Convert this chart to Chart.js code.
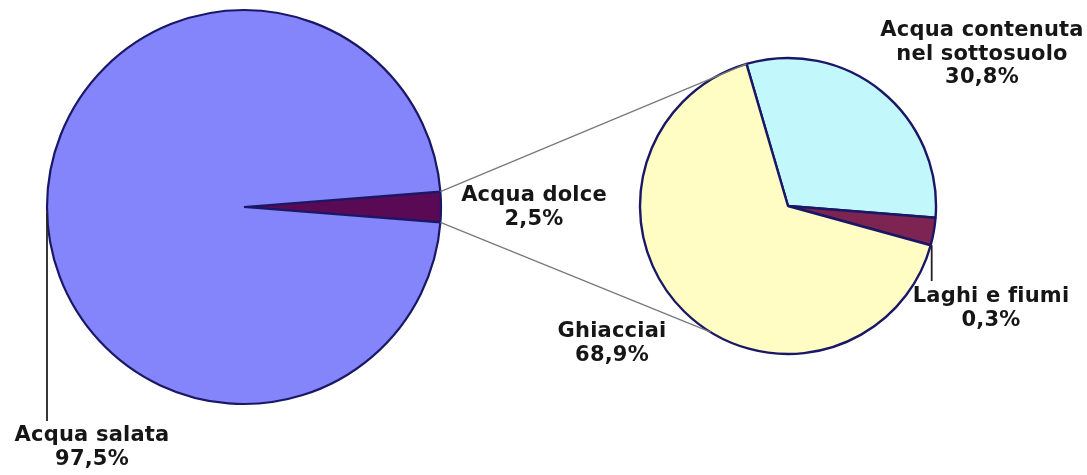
<!DOCTYPE html>
<html>
<head>
<meta charset="utf-8">
<script src="https://cdn.jsdelivr.net/npm/chart.js@4.4.0/dist/chart.umd.min.js"></script>
<style>
    body { margin: 0; background: #fff; }
    #wrap { position: relative; width: 1087px; height: 475px; }
    canvas { position: absolute; }
</style>
</head>
<body>
<div id="wrap">
    <canvas id="bigPie" width="488" height="414" style="left:0;top:0"></canvas>
    <canvas id="smallPie" width="300" height="300" style="left:638px;top:56px"></canvas>
    <canvas id="overlay" width="1087" height="475" style="left:0;top:0;pointer-events:none"></canvas>
</div>
<script>
'use strict';

// acqua sulla terra
const mainLabels = ['Acqua dolce', 'Acqua salata'];
const mainValues = [2.5, 97.5];
const mainPercent = ['2,5%', '97,5%'];
const mainColors = ['#5a0a55', '#8484fb'];

// acqua dolce (slices sized as drawn in the picture, labels keep the printed %)
const freshLabels = ['Acqua contenuta nel sottosuolo', 'Laghi e fiumi', 'Ghiacciai'];
const freshValues = [30.8, 3.0, 66.2];
const freshPercent = ['30,8%', '0,3%', '68,9%'];
const freshColors = ['#c2f8fc', '#7e2452', '#fffcc4'];

const BORDER = '#1a1866';
const FONT = 'bold 21px "DejaVu Sans", Verdana, sans-serif';

function pieOptions(rotation, radius) {
    return {
        responsive: false,
        animation: false,
        rotation: rotation,
        radius: radius,
        layout: { padding: 0 },
        plugins: { legend: { display: false }, tooltip: { enabled: false } },
        events: []
    };
}

const mainTotal = mainValues.reduce((a, b) => a + b, 0);
const bigChart = new Chart(document.getElementById('bigPie'), {
    type: 'pie',
    data: {
        labels: mainLabels,
        datasets: [{
            data: mainValues,
            backgroundColor: mainColors,
            borderColor: BORDER,
            borderWidth: 2.2
        }]
    },
    // center the small slice on the right side
    options: pieOptions(90 - mainValues[0] / mainTotal * 180, 197)
});

const smallChart = new Chart(document.getElementById('smallPie'), {
    type: 'pie',
    data: {
        labels: freshLabels,
        datasets: [{
            data: freshValues,
            backgroundColor: freshColors,
            borderColor: BORDER,
            borderWidth: 2.4
        }]
    },
    options: pieOptions(-16.3, 148)
});

function arcPoint(arc, angle, offX, offY) {
    return [offX + arc.x + arc.outerRadius * Math.cos(angle),
            offY + arc.y + arc.outerRadius * Math.sin(angle)];
}

function drawOverlay() {
    const ctx = document.getElementById('overlay').getContext('2d');
    const bigArc = bigChart.getDatasetMeta(0).data[0];
    const salata = bigChart.getDatasetMeta(0).data[1];
    const sm = smallChart.getDatasetMeta(0).data;

    // connecting lines big -> small pie
    ctx.strokeStyle = '#7a7a7a';
    ctx.lineWidth = 1.4;
    let p1 = arcPoint(bigArc, bigArc.startAngle, 0, 0);
    let p2 = arcPoint(sm[0], sm[0].startAngle, 638, 56);
    ctx.beginPath(); ctx.moveTo(p1[0], p1[1]); ctx.lineTo(p2[0], p2[1]); ctx.stroke();
    p1 = arcPoint(bigArc, bigArc.endAngle, 0, 0);
    p2 = arcPoint(sm[2], 121.5 * Math.PI / 180, 638, 56);
    ctx.beginPath(); ctx.moveTo(p1[0], p1[1]); ctx.lineTo(p2[0], p2[1]); ctx.stroke();

    // leader lines
    ctx.strokeStyle = '#222';
    ctx.lineWidth = 1.8;
    p1 = arcPoint(salata, Math.PI, 0, 0);
    ctx.beginPath(); ctx.moveTo(p1[0], p1[1] + 6); ctx.lineTo(p1[0], 421); ctx.stroke();
    p1 = arcPoint(sm[1], sm[1].endAngle, 638, 56);
    ctx.beginPath(); ctx.moveTo(p1[0] + 1, p1[1]); ctx.lineTo(p1[0] + 1, 281); ctx.stroke();

    // labels (small letter spacing keeps "fi" from turning into a ligature)
    ctx.fillStyle = '#161616';
    ctx.font = FONT;
    ctx.letterSpacing = '0.2px';
    ctx.textAlign = 'center';
    ctx.textBaseline = 'middle';
    const labels = [
        [[mainLabels[0], mainPercent[0]], 534, 196],
        [['Acqua contenuta', 'nel sottosuolo', freshPercent[0]], 982, 31],
        [[freshLabels[1], freshPercent[1]], 991, 297],
        [[freshLabels[2], freshPercent[2]], 612, 332],
        [[mainLabels[1], mainPercent[1]], 92, 436]
    ];
    labels.forEach(([lines, x, y]) => {
        lines.forEach((t, i) => ctx.fillText(t, x, y + i * 23.5));
    });
}

drawOverlay();
</script>
</body>
</html>
